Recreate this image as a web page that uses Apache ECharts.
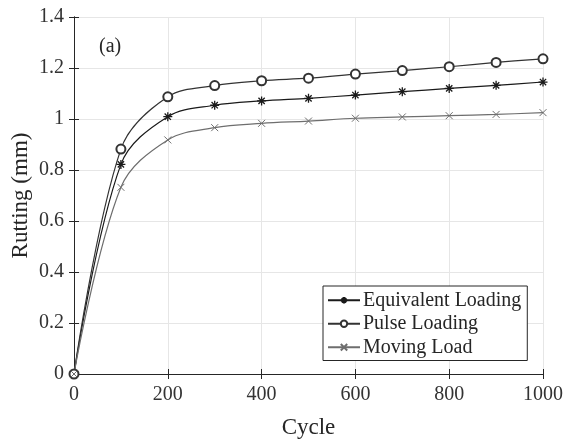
<!DOCTYPE html>
<html><head><meta charset="utf-8">
<script src="https://cdn.jsdelivr.net/npm/echarts@6/dist/echarts.min.js"></script>
<style>html,body{margin:0;padding:0;background:#fff}#c{width:565px;height:441px}</style>
</head><body><div id="c"></div>
<script>
const cycles = [0, 100, 200, 300, 400, 500, 600, 700, 800, 900, 1000];
const equivalentLoading = [0, 0.822, 1.009, 1.054, 1.071, 1.081, 1.094, 1.107, 1.120, 1.132, 1.145];
const pulseLoading = [0, 0.882, 1.087, 1.131, 1.150, 1.160, 1.176, 1.190, 1.205, 1.222, 1.236];
const movingLoad = [0, 0.732, 0.918, 0.966, 0.983, 0.992, 1.003, 1.008, 1.013, 1.018, 1.025];
const xTicks = [0, 200, 400, 600, 800, 1000];
const yTicks = [0, 0.2, 0.4, 0.6, 0.8, 1, 1.2, 1.4];

const FONT = 'Liberation Serif';
const TXT = '#262626';
const pair = arr => cycles.map((c, i) => [c, arr[i]]);
const asterisk = 'path://M5,0 L5,10 M0,5 L10,5 M1.5,1.5 L8.5,8.5 M8.5,1.5 L1.5,8.5';
const cross = 'path://M0,0 L10,10 M10,0 L0,10';

const axisCommon = {
  type: 'value',
  axisLine: { show: true, lineStyle: { color: TXT, width: 1 } },
  axisTick: { show: true, inside: true, length: 5, lineStyle: { color: TXT } },
};
const chart = echarts.init(document.getElementById('c'));
chart.setOption({
  animation: false,
  grid: { left: 74, right: 22, top: 17, bottom: 67, containLabel: false, outerBoundsMode: 'none' },
  xAxis: [
    Object.assign({}, axisCommon, {
      min: 0, max: 1000, interval: 200,
      name: 'Cycle', nameLocation: 'middle', nameGap: 42,
      nameTextStyle: { fontFamily: FONT, fontSize: 23, color: TXT },
      axisLabel: { fontFamily: FONT, fontSize: 20, color: '#333', margin: 11,
        formatter: v => xTicks.includes(v) ? String(v) : '' },
      splitLine: { show: true, lineStyle: { color: '#e6e6e6' } }
    }),
    Object.assign({}, axisCommon, {
      min: 0, max: 1000, interval: 200, position: 'top',
      axisLabel: { show: false }, splitLine: { show: false }
    })
  ],
  yAxis: [
    Object.assign({}, axisCommon, {
      min: 0, max: 1.4, interval: 0.2,
      name: 'Rutting (mm)', nameLocation: 'middle', nameGap: 42, nameMoveOverlap: false,
      nameTextStyle: { fontFamily: FONT, fontSize: 23, color: TXT },
      axisLabel: { fontFamily: FONT, fontSize: 20, color: '#333', margin: 10,
        formatter: v => { const t = yTicks.find(k => Math.abs(k - v) < 1e-6); return t === undefined ? '' : String(t); } },
      splitLine: { show: true, lineStyle: { color: '#e6e6e6' } }
    }),
    Object.assign({}, axisCommon, {
      min: 0, max: 1.4, interval: 0.2, position: 'right',
      axisLabel: { show: false }, splitLine: { show: false }
    })
  ],
  legend: {
    orient: 'vertical', left: 323, top: 286,
    backgroundColor: '#fff', borderColor: TXT, borderWidth: 1,
    padding: [4, 6, 3, 4], itemGap: 3, itemWidth: 32, itemHeight: 8,
    textStyle: { fontFamily: FONT, fontSize: 20, lineHeight: 20.5, color: TXT, padding: [0, 0, 0, -2] },
    data: ['Equivalent Loading', 'Pulse Loading', 'Moving Load']
  },
  graphic: [{ type: 'text', left: 99, top: 37,
    style: { text: '(a)', font: '20px "Liberation Serif"', fill: TXT } }],
  series: [
    { name: 'Equivalent Loading', type: 'line', data: pair(equivalentLoading), smooth: 0.35,
      symbol: asterisk, symbolSize: 9, z: 3,
      lineStyle: { color: '#1a1a1a', width: 1.2 },
      itemStyle: { color: '#1a1a1a', borderColor: '#1a1a1a', borderWidth: 1.3 } },
    { name: 'Pulse Loading', type: 'line', data: pair(pulseLoading), smooth: 0.35,
      symbol: 'emptyCircle', symbolSize: 9, z: 3,
      lineStyle: { color: '#333', width: 1.2 },
      itemStyle: { color: '#333', borderColor: '#333', borderWidth: 1 } },
    { name: 'Moving Load', type: 'line', data: pair(movingLoad), smooth: 0.35,
      symbol: cross, symbolSize: 7, z: 3,
      lineStyle: { color: '#6e6e6e', width: 1.2 },
      itemStyle: { color: '#6e6e6e', borderColor: '#6e6e6e', borderWidth: 1 } }
  ]
});
</script></body></html>
